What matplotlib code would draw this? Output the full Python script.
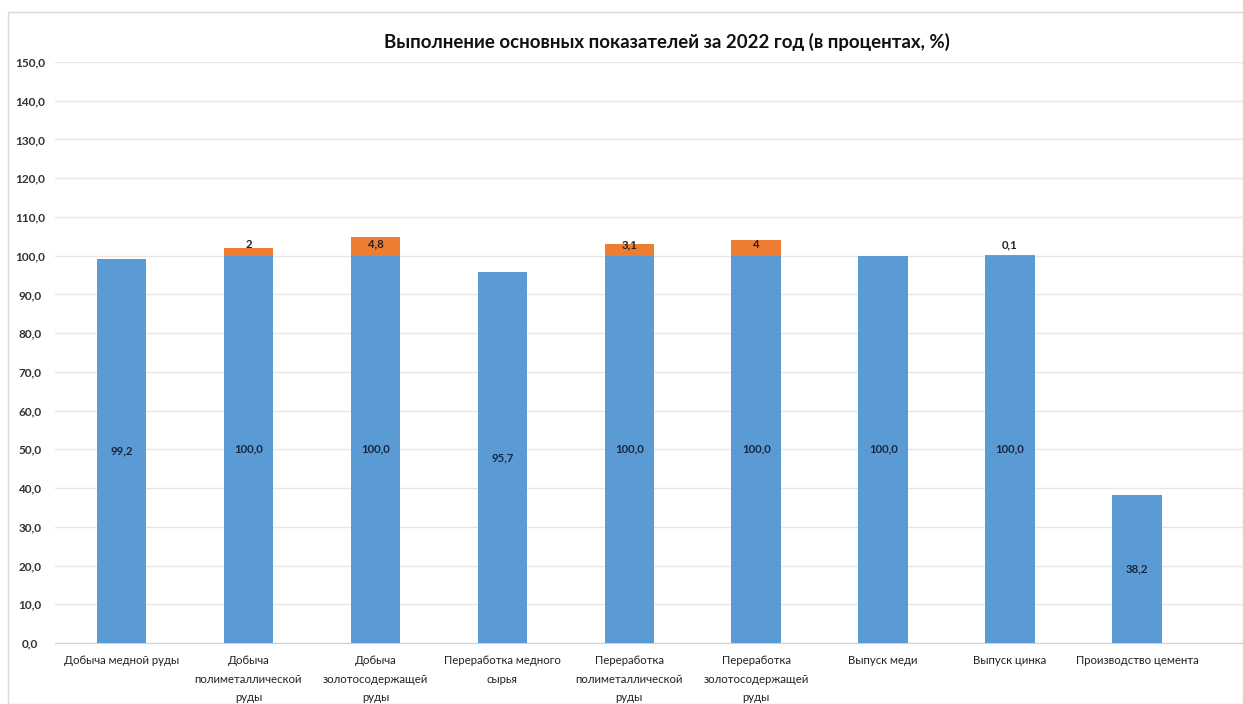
import matplotlib
matplotlib.use("Agg")
import matplotlib.pyplot as plt
from matplotlib.patches import Rectangle
import numpy as np

plt.rcParams['font.family'] = ['Lato', 'DejaVu Sans']

categories = [
    "Добыча медной руды",
    "Добыча\nполиметаллической\nруды",
    "Добыча\nзолотосодержащей\nруды",
    "Переработка медного\nсырья",
    "Переработка\nполиметаллической\nруды",
    "Переработка\nзолотосодержащей\nруды",
    "Выпуск меди",
    "Выпуск цинка",
    "Производство цемента",
]
base_values = [99.2, 100.0, 100.0, 95.7, 100.0, 100.0, 100.0, 100.0, 38.2]
extra_values = [0, 2, 4.8, 0, 3.1, 4, 0, 0.1, 0]
extra_labels = ["", "2", "4,8", "", "3,1", "4", "", "0,1", ""]
yticks = np.arange(0, 151, 10)
title = "Выполнение основных показателей за 2022 год (в процентах, %)"

BLUE = "#5B9BD5"
ORANGE = "#ED7D31"

W, H = 1243, 704
fig = plt.figure(figsize=(W / 100, H / 100), dpi=100)
fig.patch.set_facecolor("white")
# chart border
fig.add_artist(Rectangle((8 / W, 0), (W - 8) / W, (H - 12) / H, transform=fig.transFigure,
                         fill=False, edgecolor="#D9D9D9", linewidth=1))

left, right, top, bottom = 55, 1243, 62, 643
ax = fig.add_axes([left / W, 1 - bottom / H, (right - left) / W, (bottom - top) / H])

x = np.arange(len(categories))
width = 0.39
ax.bar(x, base_values, width=width, color=BLUE, zorder=3)
ax.bar(x, extra_values, width=width, bottom=base_values, color=ORANGE, zorder=3)

for xi, v in zip(x, base_values):
    ax.text(xi, v / 2, f"{v:.1f}".replace(".", ","), ha="center", va="center",
            fontsize=8.2, color="#1A2640", fontweight="bold", zorder=4)
for xi, b, e, lab in zip(x, base_values, extra_values, extra_labels):
    if lab:
        y = max(b + e - 1.8, 102.9)
        ax.text(xi, y, lab, ha="center", va="center", fontsize=8.2,
                color="#222222", fontweight="bold", zorder=4)

ax.set_xlim(-0.524, 8.835)
ax.set_ylim(0, 150)
ax.set_yticks(yticks)
ax.set_yticklabels([f"{t:.1f}".replace(".", ",") for t in yticks], fontsize=8.5,
                   color="#333333", fontweight="bold")
for lbl in ax.get_yticklabels():
    lbl.set_ha("center")
ax.tick_params(axis="y", length=0, pad=18)
ax.set_xticks(x)
ax.set_xticklabels(categories, fontsize=8.2, color="#222222", linespacing=1.8)
ax.tick_params(axis="x", length=0, pad=9)
ax.grid(axis="y", color="#E6E6E6", linewidth=1, zorder=0)
for s in ["top", "right", "left"]:
    ax.spines[s].set_visible(False)
ax.spines["bottom"].set_color("#D0D0D0")

fig.text(667 / W, 1 - 42 / H, title, ha="center", va="center", fontsize=13.4,
         fontweight="bold", color="#111111")

fig.savefig("out.png", dpi=100)
